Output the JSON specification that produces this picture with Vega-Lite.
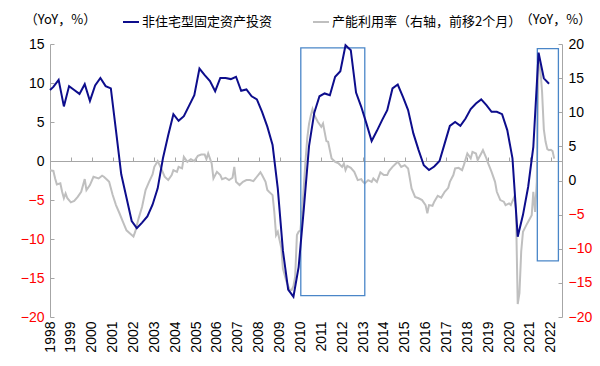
{
  "$schema": "https://vega.github.io/schema/vega-lite/v6.json",
  "width": 512,
  "height": 273,
  "autosize": {"type": "none"},
  "padding": {"left": 50, "top": 44, "right": 38, "bottom": 49},
  "background": "white",
  "config": {"font": "Liberation Sans", "view": {"stroke": null}},
  "datasets": {
    "inv": [
      {"date": "1998-01-01", "value": 9.1}, {"date": "1998-03-01", "value": 9.5}, {"date": "1998-06-01", "value": 10.4}, {"date": "1998-09-01", "value": 7.0}, {"date": "1998-12-01", "value": 9.6},
      {"date": "1999-03-01", "value": 9.1}, {"date": "1999-06-01", "value": 8.6}, {"date": "1999-09-01", "value": 9.85}, {"date": "1999-12-01", "value": 7.7},
      {"date": "2000-03-01", "value": 9.7}, {"date": "2000-06-01", "value": 10.65}, {"date": "2000-09-01", "value": 9.6}, {"date": "2000-12-01", "value": 9.3},
      {"date": "2001-03-01", "value": 3.9}, {"date": "2001-06-01", "value": -1.7}, {"date": "2001-09-01", "value": -4.7}, {"date": "2001-12-01", "value": -7.7},
      {"date": "2002-03-01", "value": -8.6}, {"date": "2002-06-01", "value": -7.9}, {"date": "2002-09-01", "value": -7.1}, {"date": "2002-12-01", "value": -5.6},
      {"date": "2003-03-01", "value": -3.5}, {"date": "2003-06-01", "value": 0.35}, {"date": "2003-09-01", "value": 3.3}, {"date": "2003-12-01", "value": 6.0},
      {"date": "2004-03-01", "value": 5.15}, {"date": "2004-06-01", "value": 5.75}, {"date": "2004-09-01", "value": 7.1}, {"date": "2004-12-01", "value": 8.44},
      {"date": "2005-03-01", "value": 11.85}, {"date": "2005-06-01", "value": 11.0}, {"date": "2005-09-01", "value": 10.25}, {"date": "2005-12-01", "value": 8.95},
      {"date": "2006-03-01", "value": 10.65}, {"date": "2006-06-01", "value": 10.65}, {"date": "2006-09-01", "value": 10.5}, {"date": "2006-12-01", "value": 10.8},
      {"date": "2007-03-01", "value": 9.0}, {"date": "2007-06-01", "value": 9.17}, {"date": "2007-09-01", "value": 8.3}, {"date": "2007-12-01", "value": 7.9},
      {"date": "2008-03-01", "value": 6.3}, {"date": "2008-06-01", "value": 4.4}, {"date": "2008-09-01", "value": 2.05}, {"date": "2008-12-01", "value": -3.5},
      {"date": "2009-03-01", "value": -11.5}, {"date": "2009-06-01", "value": -16.5}, {"date": "2009-09-01", "value": -17.4}, {"date": "2009-12-01", "value": -13.6},
      {"date": "2010-03-01", "value": -6.2}, {"date": "2010-06-01", "value": 1.9}, {"date": "2010-09-01", "value": 6.2}, {"date": "2010-12-01", "value": 8.3},
      {"date": "2011-03-01", "value": 8.66}, {"date": "2011-06-01", "value": 8.44}, {"date": "2011-09-01", "value": 10.8}, {"date": "2011-12-01", "value": 11.5},
      {"date": "2012-03-01", "value": 14.83}, {"date": "2012-06-01", "value": 14.2}, {"date": "2012-09-01", "value": 8.78}, {"date": "2012-12-01", "value": 6.95},
      {"date": "2013-03-01", "value": 4.82}, {"date": "2013-06-01", "value": 2.56}, {"date": "2013-09-01", "value": 3.87}, {"date": "2013-12-01", "value": 5.24},
      {"date": "2014-03-01", "value": 6.52}, {"date": "2014-06-01", "value": 9.3}, {"date": "2014-09-01", "value": 9.8}, {"date": "2014-12-01", "value": 8.22},
      {"date": "2015-03-01", "value": 6.52}, {"date": "2015-06-01", "value": 3.54}, {"date": "2015-09-01", "value": 1.4}, {"date": "2015-12-01", "value": -0.55},
      {"date": "2016-03-01", "value": -1.15}, {"date": "2016-06-01", "value": -0.7}, {"date": "2016-09-01", "value": 0.0}, {"date": "2016-12-01", "value": 2.26},
      {"date": "2017-03-01", "value": 4.5}, {"date": "2017-06-01", "value": 5.0}, {"date": "2017-09-01", "value": 4.5}, {"date": "2017-12-01", "value": 5.45},
      {"date": "2018-03-01", "value": 6.65}, {"date": "2018-06-01", "value": 7.37}, {"date": "2018-09-01", "value": 7.9}, {"date": "2018-12-01", "value": 7.16},
      {"date": "2019-03-01", "value": 6.3}, {"date": "2019-06-01", "value": 6.3}, {"date": "2019-09-01", "value": 6.0}, {"date": "2019-12-01", "value": 3.96},
      {"date": "2020-03-01", "value": 0.35}, {"date": "2020-06-01", "value": -9.7}, {"date": "2020-09-01", "value": -6.9}, {"date": "2020-12-01", "value": -3.3},
      {"date": "2021-03-01", "value": 1.8}, {"date": "2021-06-01", "value": 13.9}, {"date": "2021-09-01", "value": 10.6}, {"date": "2021-12-01", "value": 9.9}
    ],
    "cap": [
      {"date": "1998-01-01", "value": 1.5}, {"date": "1998-03-01", "value": 1.4}, {"date": "1998-04-01", "value": 0.3}, {"date": "1998-05-01", "value": -0.57}, {"date": "1998-07-01", "value": -0.4}, {"date": "1998-08-01", "value": -1.65}, {"date": "1998-09-01", "value": -2.6}, {"date": "1998-10-01", "value": -1.9}, {"date": "1998-11-01", "value": -2.6},
      {"date": "1999-01-01", "value": -3.2}, {"date": "1999-03-01", "value": -3.0}, {"date": "1999-05-01", "value": -2.4}, {"date": "1999-07-01", "value": -1.65}, {"date": "1999-09-01", "value": 0.2}, {"date": "1999-10-01", "value": -1.4}, {"date": "1999-12-01", "value": -0.67},
      {"date": "2000-02-01", "value": 0.55}, {"date": "2000-05-01", "value": 0.3}, {"date": "2000-07-01", "value": 0.7}, {"date": "2000-08-01", "value": 0.55}, {"date": "2000-10-01", "value": 0.06}, {"date": "2000-11-01", "value": -0.2},
      {"date": "2001-01-01", "value": -2.1}, {"date": "2001-03-01", "value": -3.6}, {"date": "2001-05-01", "value": -4.8}, {"date": "2001-07-01", "value": -6.05}, {"date": "2001-09-01", "value": -7.3}, {"date": "2001-11-01", "value": -7.75},
      {"date": "2002-01-01", "value": -8.2}, {"date": "2002-02-01", "value": -7.5}, {"date": "2002-04-01", "value": -5.55}, {"date": "2002-06-01", "value": -3.85}, {"date": "2002-08-01", "value": -1.4}, {"date": "2002-10-01", "value": -0.2}, {"date": "2002-12-01", "value": 0.9},
      {"date": "2003-01-01", "value": 2.0}, {"date": "2003-03-01", "value": 2.85}, {"date": "2003-05-01", "value": 1.77}, {"date": "2003-07-01", "value": 0.55}, {"date": "2003-09-01", "value": 0.06}, {"date": "2003-11-01", "value": 0.8}, {"date": "2003-12-01", "value": 1.52},
      {"date": "2004-02-01", "value": 1.27}, {"date": "2004-03-01", "value": 2.0}, {"date": "2004-05-01", "value": 1.77}, {"date": "2004-06-01", "value": 3.47}, {"date": "2004-08-01", "value": 2.74}, {"date": "2004-10-01", "value": 3.13}, {"date": "2004-12-01", "value": 2.84},
      {"date": "2005-02-01", "value": 3.6}, {"date": "2005-04-01", "value": 3.8}, {"date": "2005-06-01", "value": 3.8}, {"date": "2005-07-01", "value": 3.13}, {"date": "2005-08-01", "value": 3.96}, {"date": "2005-10-01", "value": 2.5}, {"date": "2005-11-01", "value": 0.3},
      {"date": "2006-01-01", "value": 1.27}, {"date": "2006-03-01", "value": 0.8}, {"date": "2006-04-01", "value": 0.2}, {"date": "2006-06-01", "value": 0.4}, {"date": "2006-08-01", "value": 0.06}, {"date": "2006-10-01", "value": 0.4}, {"date": "2006-11-01", "value": 2.0}, {"date": "2006-12-01", "value": -0.2},
      {"date": "2007-02-01", "value": -0.67}, {"date": "2007-04-01", "value": -0.2}, {"date": "2007-06-01", "value": 0.06}, {"date": "2007-08-01", "value": 0.06}, {"date": "2007-10-01", "value": -0.1}, {"date": "2007-12-01", "value": 0.55},
      {"date": "2008-02-01", "value": 1.2}, {"date": "2008-03-01", "value": 0.8}, {"date": "2008-05-01", "value": -0.2}, {"date": "2008-06-01", "value": -1.4}, {"date": "2008-07-01", "value": -1.65}, {"date": "2008-09-01", "value": -2.14}, {"date": "2008-10-01", "value": -4.6}, {"date": "2008-11-01", "value": -8.0}, {"date": "2008-12-01", "value": -7.5},
      {"date": "2009-02-01", "value": -9.9}, {"date": "2009-03-01", "value": -12.9}, {"date": "2009-05-01", "value": -14.8}, {"date": "2009-07-01", "value": -16.05}, {"date": "2009-08-01", "value": -16.05}, {"date": "2009-09-01", "value": -15.5}, {"date": "2009-10-01", "value": -14.1}, {"date": "2009-11-01", "value": -8.0}, {"date": "2009-12-01", "value": -7.5},
      {"date": "2010-01-01", "value": -7.3}, {"date": "2010-02-01", "value": -4.5}, {"date": "2010-03-01", "value": -1.0}, {"date": "2010-04-01", "value": 3.0}, {"date": "2010-05-01", "value": 6.2}, {"date": "2010-06-01", "value": 8.3}, {"date": "2010-07-01", "value": 9.5}, {"date": "2010-08-01", "value": 10.45}, {"date": "2010-09-01", "value": 9.6}, {"date": "2010-11-01", "value": 8.6},
      {"date": "2011-01-01", "value": 7.86}, {"date": "2011-02-01", "value": 8.36}, {"date": "2011-04-01", "value": 5.77}, {"date": "2011-05-01", "value": 5.67}, {"date": "2011-07-01", "value": 3.24}, {"date": "2011-09-01", "value": 2.74}, {"date": "2011-11-01", "value": 2.5},
      {"date": "2012-01-01", "value": 2.0}, {"date": "2012-02-01", "value": 2.5}, {"date": "2012-03-01", "value": 1.52}, {"date": "2012-04-01", "value": 2.15}, {"date": "2012-06-01", "value": 1.86}, {"date": "2012-08-01", "value": 1.27}, {"date": "2012-10-01", "value": 0.06}, {"date": "2012-12-01", "value": 0.2},
      {"date": "2013-01-01", "value": -0.2}, {"date": "2013-02-01", "value": -0.42}, {"date": "2013-04-01", "value": 0.06}, {"date": "2013-06-01", "value": -0.2}, {"date": "2013-07-01", "value": 0.3}, {"date": "2013-09-01", "value": -0.2}, {"date": "2013-11-01", "value": 1.19},
      {"date": "2014-01-01", "value": 0.8}, {"date": "2014-03-01", "value": 0.8}, {"date": "2014-04-01", "value": 1.38}, {"date": "2014-06-01", "value": 2.0}, {"date": "2014-08-01", "value": 2.5}, {"date": "2014-09-01", "value": 2.74}, {"date": "2014-11-01", "value": 2.0},
      {"date": "2015-01-01", "value": 2.25}, {"date": "2015-03-01", "value": 1.77}, {"date": "2015-04-01", "value": 0.3}, {"date": "2015-05-01", "value": -1.16}, {"date": "2015-07-01", "value": -2.4}, {"date": "2015-09-01", "value": -2.6}, {"date": "2015-11-01", "value": -2.87},
      {"date": "2016-01-01", "value": -3.6}, {"date": "2016-02-01", "value": -4.8}, {"date": "2016-03-01", "value": -3.6}, {"date": "2016-05-01", "value": -3.7}, {"date": "2016-06-01", "value": -3.1}, {"date": "2016-08-01", "value": -2.24}, {"date": "2016-10-01", "value": -2.5}, {"date": "2016-12-01", "value": -1.65},
      {"date": "2017-02-01", "value": -1.07}, {"date": "2017-03-01", "value": -0.2}, {"date": "2017-05-01", "value": 0.8}, {"date": "2017-06-01", "value": 1.77}, {"date": "2017-08-01", "value": 1.86}, {"date": "2017-10-01", "value": 1.52}, {"date": "2017-11-01", "value": 2.25},
      {"date": "2018-01-01", "value": 3.96}, {"date": "2018-03-01", "value": 3.24}, {"date": "2018-04-01", "value": 4.2}, {"date": "2018-06-01", "value": 3.96}, {"date": "2018-07-01", "value": 2.99}, {"date": "2018-09-01", "value": 3.96}, {"date": "2018-10-01", "value": 4.45}, {"date": "2018-12-01", "value": 3.24},
      {"date": "2019-01-01", "value": 2.5}, {"date": "2019-03-01", "value": 1.27}, {"date": "2019-05-01", "value": -0.2}, {"date": "2019-06-01", "value": -1.65}, {"date": "2019-08-01", "value": -2.87}, {"date": "2019-10-01", "value": -3.1}, {"date": "2019-11-01", "value": -3.6},
      {"date": "2020-01-01", "value": -3.35}, {"date": "2020-02-01", "value": -3.6}, {"date": "2020-04-01", "value": -2.4}, {"date": "2020-05-01", "value": -4.1}, {"date": "2020-06-01", "value": -18.1}, {"date": "2020-07-01", "value": -16.5}, {"date": "2020-08-01", "value": -10.4}, {"date": "2020-09-01", "value": -7.5}, {"date": "2020-11-01", "value": -6.5}, {"date": "2020-12-01", "value": -6.05},
      {"date": "2021-02-01", "value": -5.1}, {"date": "2021-03-01", "value": -1.65}, {"date": "2021-04-01", "value": -4.6}, {"date": "2021-05-01", "value": -0.2}, {"date": "2021-06-01", "value": 18.4}, {"date": "2021-07-01", "value": 16.5}, {"date": "2021-08-01", "value": 13.0}, {"date": "2021-09-01", "value": 7.5}, {"date": "2021-10-01", "value": 5.7}, {"date": "2021-11-01", "value": 4.6}, {"date": "2021-12-01", "value": 4.45},
      {"date": "2022-01-01", "value": 4.5}, {"date": "2022-02-01", "value": 4.3}, {"date": "2022-03-01", "value": 3.2}
    ],
    "boxes": [
      {"start": "2010-01-08", "end": "2013-02-01", "top": 14.5, "bottom": -17.26},
      {"start": "2021-05-10", "end": "2022-05-14", "top": 14.4, "bottom": -12.8}
    ]
  },
  "layer": [
    {
      "data": {"name": "cap"},
      "mark": {"type": "line", "strokeWidth": 2},
      "encoding": {
        "x": {
          "field": "date", "type": "temporal",
          "scale": {"domain": ["1998-01-01", "2022-07-16"]},
          "axis": {
            "title": null, "orient": "bottom", "offset": -156,
            "tickCount": {"interval": "year", "step": 1}, "format": "%Y",
            "labelAngle": -90, "labelPadding": 164, "labelFontSize": 14, "labelColor": "#000000",
            "domainColor": "#A6A6A6", "tickColor": "#A6A6A6", "tickSize": -4, "grid": false, "labelFlush": false, "labelOverlap": false
          }
        },
        "y": {
          "field": "value", "type": "quantitative",
          "scale": {"domain": [-20, 20], "nice": false, "zero": false},
          "axis": {
            "orient": "right", "values": [-20, -15, -10, -5, 0, 5, 10, 15, 20], "labelOverlap": false,
            "title": "（YoY，%）", "titleAngle": 0, "titleFont": "Noto Sans CJK SC", "titleFontSize": 13, "titleFontWeight": "normal",
            "titleAlign": "center", "titleBaseline": "middle", "titleX": -7, "titleY": -25,
            "labelFontSize": 14, "labelPadding": 10,
            "labelColor": {"condition": {"test": "datum.value < 0", "value": "#FF0000"}, "value": "#000000"},
            "domainColor": "#A6A6A6", "tickColor": "#A6A6A6", "tickSize": -4, "grid": false
          }
        },
        "color": {
          "datum": "产能利用率（右轴，前移2个月）", "type": "nominal",
          "scale": {"domain": ["非住宅型固定资产投资", "产能利用率（右轴，前移2个月）"], "range": ["#0D0D8C", "#BFBFBF"]},
          "legend": {
            "orient": "none", "legendX": 72, "legendY": -31, "direction": "horizontal",
            "title": null, "symbolType": "stroke", "symbolSize": 256, "symbolStrokeWidth": 2,
            "labelFont": "Noto Sans CJK SC", "labelFontSize": 13, "labelColor": "#000000", "labelOffset": 2, "columnPadding": 36, "labelLimit": 400
          }
        }
      }
    },
    {
      "layer": [
        {
          "data": {"name": "boxes"},
          "mark": {"type": "rect", "fill": null, "stroke": "#4A86C8", "strokeWidth": 1.3},
          "encoding": {
            "x": {"field": "start", "type": "temporal"},
            "x2": {"field": "end"},
            "y": {
              "field": "top", "type": "quantitative",
              "scale": {"domain": [-20, 15], "nice": false, "zero": false},
              "axis": {
                "orient": "left", "values": [-20, -15, -10, -5, 0, 5, 10, 15], "labelOverlap": false,
                "title": "（YoY，%）", "titleAngle": 0, "titleFont": "Noto Sans CJK SC", "titleFontSize": 13, "titleFontWeight": "normal",
                "titleAlign": "center", "titleBaseline": "middle", "titleX": 10, "titleY": -25,
                "labelFontSize": 14, "labelPadding": 10,
                "labelColor": {"condition": {"test": "datum.value < 0", "value": "#FF0000"}, "value": "#000000"},
                "domainColor": "#A6A6A6", "tickColor": "#A6A6A6", "tickSize": -4, "grid": false
              }
            },
            "y2": {"field": "bottom"}
          }
        },
        {
          "data": {"name": "inv"},
          "mark": {"type": "line", "strokeWidth": 2},
          "encoding": {
            "x": {"field": "date", "type": "temporal"},
            "y": {
              "field": "value", "type": "quantitative",
              "axis": {
                "orient": "left", "values": [-20, -15, -10, -5, 0, 5, 10, 15], "labelOverlap": false,
                "title": "（YoY，%）", "titleAngle": 0, "titleFont": "Noto Sans CJK SC", "titleFontSize": 13, "titleFontWeight": "normal",
                "titleAlign": "center", "titleBaseline": "middle", "titleX": 10, "titleY": -25,
                "labelFontSize": 14, "labelPadding": 10,
                "labelColor": {"condition": {"test": "datum.value < 0", "value": "#FF0000"}, "value": "#000000"},
                "domainColor": "#A6A6A6", "tickColor": "#A6A6A6", "tickSize": -4, "grid": false
              }
            },
            "color": {"datum": "非住宅型固定资产投资", "type": "nominal"}
          }
        }
      ]
    }
  ],
  "resolve": {"scale": {"y": "independent"}}
}
